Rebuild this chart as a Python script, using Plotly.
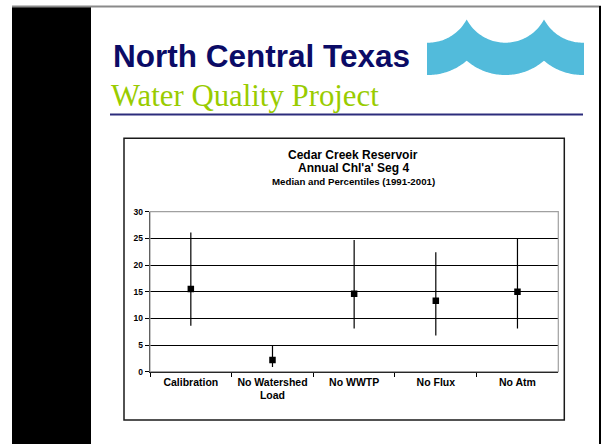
import numpy as np
import plotly.graph_objects as go

# ---- data ----
categories = ["Calibration", "No Watershed<br>Load", "No WWTP", "No Flux", "No Atm"]
median_vals = [15.5, 2.2, 14.6, 13.3, 15.0]
pct_high = [26.1, 5.0, 24.7, 22.4, 25.0]
pct_low = [8.6, 0.9, 8.1, 6.8, 8.1]
y_ticks = [0, 5, 10, 15, 20, 25, 30]

W, H = 602, 444


def px(x):
    return x / W


def py(y):
    return 1 - y / H


SANS = "Liberation Sans, Arial, sans-serif"
SERIF = "Liberation Serif, Times New Roman, serif"

fig = go.Figure()
fig.add_trace(go.Scatter(
    x=categories, y=median_vals, mode="markers",
    marker=dict(symbol="square", size=6.5, color="black"),
    error_y=dict(type="data", symmetric=False,
                 array=[h - m for h, m in zip(pct_high, median_vals)],
                 arrayminus=[m - l for m, l in zip(median_vals, pct_low)],
                 color="black", thickness=1.2, width=0),
    hoverinfo="skip", showlegend=False,
))


# ---- wave logo path (decoration) ----
def wave_path():
    cusps = [466.7, 544.0]
    w = 38.7
    centers = [cusps[0] - w, (cusps[0] + cusps[1]) / 2, cusps[1] + w]
    x_left, x_right = 427.0, 584.0

    def edge(yflat, h, xs):
        R = (w * w + h * h) / (2 * h)
        ys = []
        for x in xs:
            m = min(centers, key=lambda c: abs(c - x))
            d = min(abs(x - m), w)
            ys.append(yflat - R + np.sqrt(R * R - d * d))
        return ys

    xs = np.concatenate([np.linspace(x_left, cusps[0], 30),
                         np.linspace(cusps[0], cusps[1], 60)[1:],
                         np.linspace(cusps[1], x_right, 30)[1:]])
    top = edge(42.7, 23.4, xs)
    bot = edge(75.0, 14.3, xs)
    pts = [(x, y) for x, y in zip(xs, top)] + [(x, y) for x, y in zip(xs[::-1], bot[::-1])]
    return "M " + " L ".join(f"{px(x):.5f},{py(y):.5f}" for x, y in pts) + " Z"


shapes = [
    # black side strip
    dict(type="rect", xref="paper", yref="paper", x0=px(12), x1=px(91), y0=py(444), y1=py(7),
         fillcolor="black", line=dict(width=0), layer="below"),
    # top gray line
    dict(type="line", xref="paper", yref="paper", x0=px(12), x1=px(601), y0=py(6.5), y1=py(6.5),
         line=dict(color="#8a8a8a", width=2)),
    # right black line
    dict(type="line", xref="paper", yref="paper", x0=px(600), x1=px(600), y0=py(6), y1=py(444),
         line=dict(color="black", width=2)),
    # navy underline
    dict(type="line", xref="paper", yref="paper", x0=px(110), x1=px(583), y0=py(114.5), y1=py(114.5),
         line=dict(color="#2c2c7c", width=2)),
    # wave logo
    dict(type="path", xref="paper", yref="paper", path=wave_path(),
         fillcolor="#52bbdb", line=dict(width=0)),
    # chart box
    dict(type="rect", xref="paper", yref="paper", x0=px(124), x1=px(564.3), y0=py(420), y1=py(138.3),
         line=dict(color="#1a1a1a", width=1.5), layer="below"),
    # plot area border (gray)
    dict(type="rect", xref="x domain", yref="y domain", x0=0, x1=1, y0=0, y1=1,
         line=dict(color="#a0a0a0", width=1.2), layer="above"),
]

annotations = [
    dict(text="North Central Texas", xref="paper", yref="paper", x=px(111), y=py(56),
         xanchor="left", yanchor="middle", showarrow=False,
         font=dict(family=SANS, size=31.5, color="#0b0b66", weight="bold")),
    dict(text="Water Quality Project", xref="paper", yref="paper", x=px(109), y=py(96),
         xanchor="left", yanchor="middle", showarrow=False,
         font=dict(family=SERIF, size=30.8, color="#99cc00")),
    dict(text="Cedar Creek Reservoir", xref="paper", yref="paper", x=px(353), y=py(154.5),
         xanchor="center", yanchor="middle", showarrow=False,
         font=dict(family=SANS, size=12, color="black", weight="bold")),
    dict(text="Annual Chl'a' Seg 4", xref="paper", yref="paper", x=px(353), y=py(168.5),
         xanchor="center", yanchor="middle", showarrow=False,
         font=dict(family=SANS, size=12, color="black", weight="bold")),
    dict(text="Median and Percentiles (1991-2001)", xref="paper", yref="paper", x=px(353), y=py(181.3),
         xanchor="center", yanchor="middle", showarrow=False,
         font=dict(family=SANS, size=9.7, color="black", weight="bold")),
]

fig.update_layout(
    width=W, height=H,
    margin=dict(l=0, r=0, t=0, b=0, autoexpand=False),
    paper_bgcolor="white", plot_bgcolor="rgba(0,0,0,0)",
    shapes=shapes, annotations=annotations, showlegend=False,
    xaxis=dict(type="category", domain=[px(150), px(558.3)], range=[-0.5, 4.5],
               showline=True, linecolor="black", linewidth=1.3,
               ticks="outside", ticklen=4, tickcolor="black", tickwidth=1,
               tickson="boundaries", showgrid=False, zeroline=False,
               tickfont=dict(family=SANS, size=10.5, color="black", weight="bold"),
               fixedrange=True),
    yaxis=dict(domain=[py(371.7), py(211.7)], range=[0, 30], tickvals=y_ticks,
               showline=True, linecolor="black", linewidth=1.3,
               ticks="outside", ticklen=4, tickcolor="black", tickwidth=1,
               showgrid=True, gridcolor="black", gridwidth=1, zeroline=False,
               tickfont=dict(family=SANS, size=8.5, color="black", weight="bold"),
               fixedrange=True),
)

fig.write_html(
    "out.html",
    config={"displayModeBar": False, "staticPlot": True},
    post_script="document.body.style.margin='0px';document.body.style.overflow='hidden';",
)
